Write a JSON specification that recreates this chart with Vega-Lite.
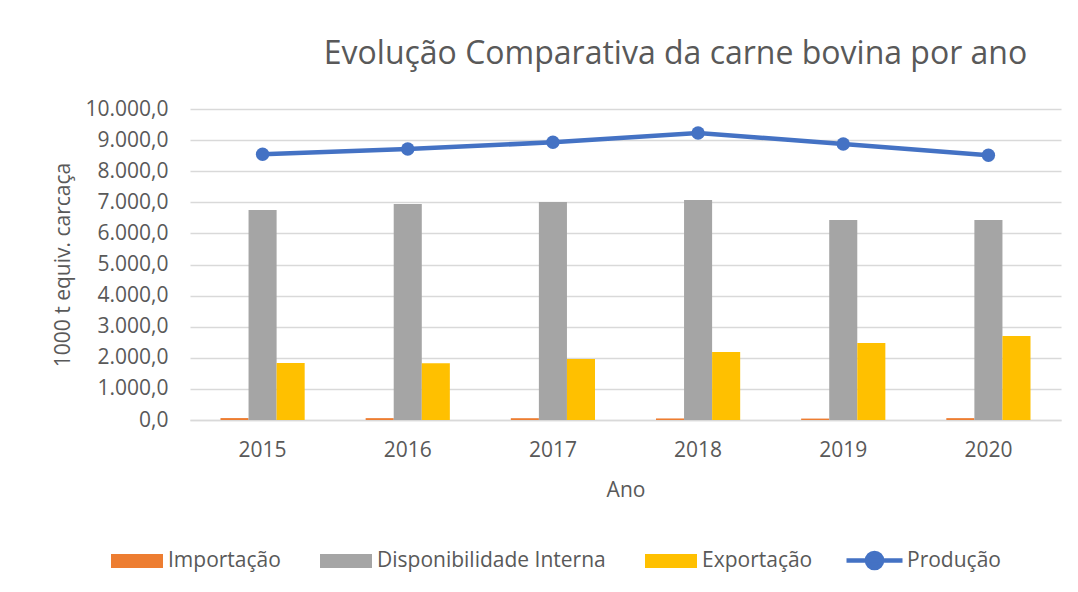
{
  "$schema": "https://vega.github.io/schema/vega-lite/v6.json",
  "width": 871,
  "height": 311,
  "autosize": {"type": "none"},
  "padding": {"left": 190, "top": 109, "right": 17, "bottom": 172},
  "background": "white",
  "config": {
    "locale": {"number": {"decimal": ",", "thousands": ".", "grouping": [3], "currency": ["R$", ""]}},
    "view": {"stroke": null},
    "font": "Open Sans",
    "text": {"font": "Open Sans"}
  },
  "title": {
    "text": "Evolução Comparativa da carne bovina por ano",
    "font": "Open Sans",
    "fontSize": 32,
    "fontWeight": "normal",
    "color": "#595959",
    "anchor": "middle",
    "dx": 50,
    "baseline": "alphabetic",
    "offset": 2
  },
  "data": {
    "values": [
      {"ano": "2015", "serie": "Importação", "valor": 62},
      {"ano": "2015", "serie": "Disponibilidade Interna", "valor": 6752},
      {"ano": "2015", "serie": "Exportação", "valor": 1833},
      {"ano": "2015", "serie": "Produção", "valor": 8543},
      {"ano": "2016", "serie": "Importação", "valor": 60},
      {"ano": "2016", "serie": "Disponibilidade Interna", "valor": 6945},
      {"ano": "2016", "serie": "Exportação", "valor": 1823},
      {"ano": "2016", "serie": "Produção", "valor": 8714},
      {"ano": "2017", "serie": "Importação", "valor": 58},
      {"ano": "2017", "serie": "Disponibilidade Interna", "valor": 7010},
      {"ano": "2017", "serie": "Exportação", "valor": 1961},
      {"ano": "2017", "serie": "Produção", "valor": 8929},
      {"ano": "2018", "serie": "Importação", "valor": 50},
      {"ano": "2018", "serie": "Disponibilidade Interna", "valor": 7074},
      {"ano": "2018", "serie": "Exportação", "valor": 2186},
      {"ano": "2018", "serie": "Produção", "valor": 9228},
      {"ano": "2019", "serie": "Importação", "valor": 46},
      {"ano": "2019", "serie": "Disponibilidade Interna", "valor": 6431},
      {"ano": "2019", "serie": "Exportação", "valor": 2476},
      {"ano": "2019", "serie": "Produção", "valor": 8875},
      {"ano": "2020", "serie": "Importação", "valor": 60},
      {"ano": "2020", "serie": "Disponibilidade Interna", "valor": 6431},
      {"ano": "2020", "serie": "Exportação", "valor": 2701},
      {"ano": "2020", "serie": "Produção", "valor": 8511}
    ]
  },
  "encoding": {
    "x": {
      "field": "ano",
      "type": "nominal",
      "scale": {"paddingInner": 0.42, "paddingOuter": 0.21},
      "axis": {
        "title": "Ano",
        "labelAngle": 0,
        "labelFont": "Open Sans",
        "labelFontSize": 21,
        "labelColor": "#595959",
        "labelPadding": 19,
        "ticks": false,
        "domainColor": "#D9D9D9",
        "domainWidth": 1.5,
        "titleFont": "Open Sans",
        "titleFontSize": 21,
        "titleFontWeight": "normal",
        "titleColor": "#595959",
        "titlePadding": 19
      }
    },
    "y": {
      "field": "valor",
      "type": "quantitative",
      "scale": {"domain": [0, 10000], "nice": false},
      "axis": {
        "title": "1000 t equiv. carcaça",
        "format": ",.1f",
        "values": [0, 1000, 2000, 3000, 4000, 5000, 6000, 7000, 8000, 9000, 10000],
        "labelOverlap": false,
        "labelFont": "Open Sans",
        "labelFontSize": 21,
        "labelColor": "#595959",
        "labelPadding": 22,
        "ticks": false,
        "domain": false,
        "gridColor": "#D9D9D9",
        "gridWidth": 1.5,
        "titleFont": "Open Sans",
        "titleFontSize": 21,
        "titleFontWeight": "normal",
        "titleColor": "#595959",
        "titlePadding": 12
      }
    }
  },
  "layer": [
    {
      "transform": [{"filter": "datum.serie !== 'Produção'"}],
      "mark": {"type": "bar"},
      "encoding": {
        "xOffset": {
          "field": "serie",
          "type": "nominal",
          "sort": ["Importação", "Disponibilidade Interna", "Exportação"],
          "scale": {"paddingInner": 0, "paddingOuter": 0}
        },
        "color": {
          "field": "serie",
          "type": "nominal",
          "sort": ["Importação", "Disponibilidade Interna", "Exportação"],
          "scale": {
            "domain": ["Importação", "Disponibilidade Interna", "Exportação"],
            "range": ["#ED7D31", "#A5A5A5", "#FFC000"]
          },
          "legend": {
            "title": null,
            "orient": "none",
            "direction": "horizontal",
            "legendX": -79,
            "legendY": 426,
            "symbolType": "M-1,-0.27H1V0.27H-1Z",
            "symbolSize": 2704,
            "symbolStrokeWidth": 0,
            "labelFont": "Open Sans",
            "labelFontSize": 21,
            "labelColor": "#595959",
            "labelOffset": 5,
            "columnPadding": 39,
            "labelLimit": 400
          }
        }
      }
    },
    {
      "transform": [{"filter": "datum.serie === 'Produção'"}],
      "mark": {"type": "line", "strokeWidth": 4.5},
      "encoding": {
        "stroke": {
          "datum": "Produção",
          "scale": {"domain": ["Produção"], "range": ["#4472C4"]},
          "legend": {
            "title": null,
            "orient": "none",
            "direction": "horizontal",
            "legendX": 654,
            "legendY": 421,
            "symbolType": "M-1,0H1M-0.27,0A0.27,0.27 0 1,0 0.27,0A0.27,0.27 0 1,0 -0.27,0Z",
            "symbolSize": 3136,
            "symbolStrokeWidth": 4.5,
            "symbolFillColor": "#4472C4",
            "labelFont": "Open Sans",
            "labelFontSize": 21,
            "labelColor": "#595959",
            "labelOffset": 2,
            "encode": {"symbols": {"update": {"fill": {"value": "#4472C4"}, "stroke": {"value": "#4472C4"}}}}
          }
        }
      }
    },
    {
      "transform": [{"filter": "datum.serie === 'Produção'"}],
      "mark": {"type": "point", "filled": true, "size": 180, "color": "#4472C4", "opacity": 1},
      "encoding": {}
    }
  ]
}
